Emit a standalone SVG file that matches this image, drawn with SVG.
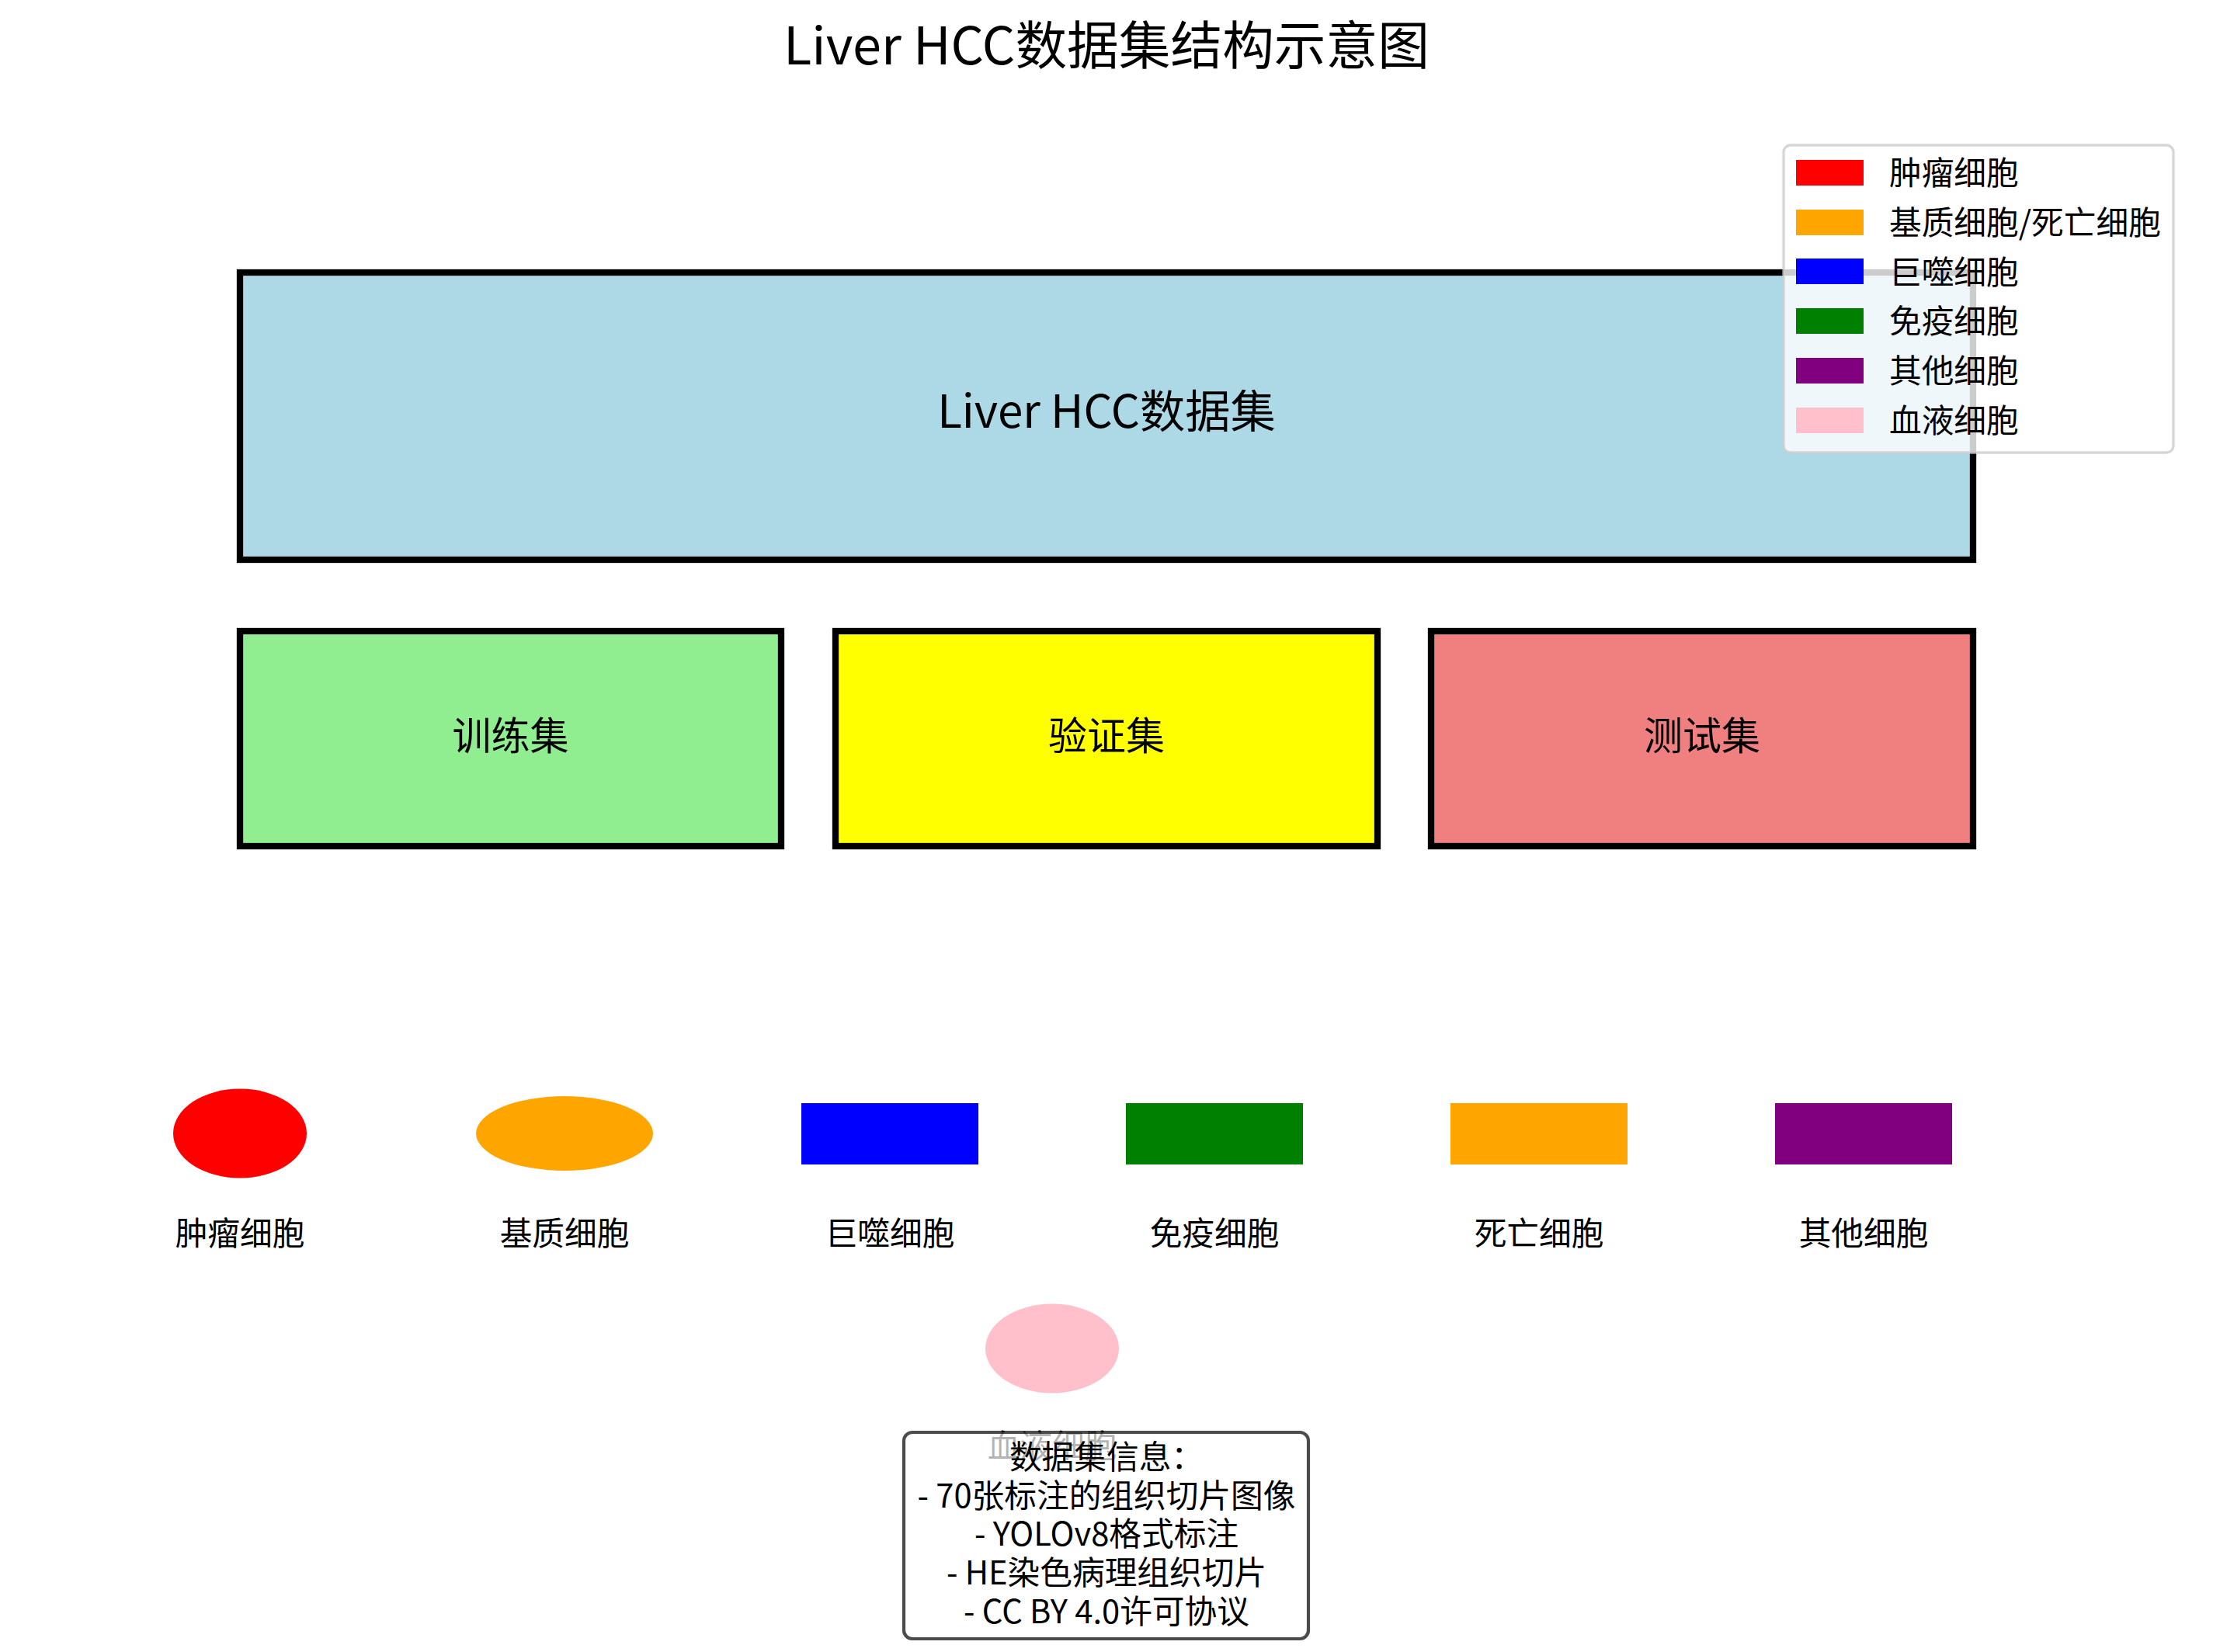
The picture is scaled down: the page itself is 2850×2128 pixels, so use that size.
<svg xmlns="http://www.w3.org/2000/svg" width="2850" height="2128" viewBox="0 0 2850 2128">
<style>
  text { font-family: "Noto Sans CJK SC", "Noto Sans", sans-serif; fill: #000; }
  .title { font-size: 66.7px; text-anchor: middle; }
  .main { font-size: 58.3px; text-anchor: middle; }
  .sub { font-size: 50px; text-anchor: middle; }
  .lbl { font-size: 41.7px; text-anchor: middle; }
  .leg { font-size: 41.7px; text-anchor: start; }
  .info { font-size: 41.7px; text-anchor: middle; }
  .box { stroke: #000; stroke-width: 8.3; }
</style>
<rect width="2850" height="2128" fill="#fff"/>
<g id="title"><text class="title" x="1425" y="83">Liver HCC数据集结构示意图</text></g>
<g id="connectors"></g>
<g id="dataset">
  <rect class="box" x="309" y="351" width="2232" height="370" fill="#ADD8E6"/>
  <text class="main" x="1425" y="551">Liver HCC数据集</text>
</g>
<g id="train">
  <rect class="box" x="309" y="813" width="697" height="277" fill="#90EE90"/>
  <text class="sub" x="657.5" y="966">训练集</text>
</g>
<g id="val">
  <rect class="box" x="1076" y="813" width="698" height="277" fill="#FFFF00"/>
  <text class="sub" x="1425" y="966">验证集</text>
</g>
<g id="test">
  <rect class="box" x="1843" y="813" width="698" height="277" fill="#F08080"/>
  <text class="sub" x="2192" y="966">测试集</text>
</g>
<g id="cell-tumor">
  <ellipse cx="309" cy="1460" rx="86" ry="57.5" fill="#FF0000"/>
  <text class="lbl" x="309" y="1604">肿瘤细胞</text>
</g>
<g id="cell-stroma">
  <ellipse cx="727" cy="1460" rx="114" ry="48" fill="#FFA500"/>
  <text class="lbl" x="727" y="1604">基质细胞</text>
</g>
<g id="cell-macrophage">
  <rect x="1032" y="1421" width="228" height="79" fill="#0000FF"/>
  <text class="lbl" x="1146" y="1604">巨噬细胞</text>
</g>
<g id="cell-immune">
  <rect x="1450" y="1421" width="228" height="79" fill="#008000"/>
  <text class="lbl" x="1564" y="1604">免疫细胞</text>
</g>
<g id="cell-dead">
  <rect x="1868" y="1421" width="228" height="79" fill="#FFA500"/>
  <text class="lbl" x="1982" y="1604">死亡细胞</text>
</g>
<g id="cell-other">
  <rect x="2286" y="1421" width="228" height="79" fill="#800080"/>
  <text class="lbl" x="2400" y="1604">其他细胞</text>
</g>
<g id="cell-blood">
  <ellipse cx="1355" cy="1737" rx="86" ry="57.5" fill="#FFC0CB"/>
  <text class="lbl" x="1355" y="1878">血液细胞</text>
</g>
<g id="info">
  <rect x="1164" y="1845" width="521" height="266" rx="11" ry="11" fill="#fff" fill-opacity="0.7" stroke="#000" stroke-opacity="0.7" stroke-width="4.2"/>
  <text class="info" x="1425" y="1892">数据集信息：</text>
  <text class="info" x="1425" y="1942">- 70张标注的组织切片图像</text>
  <text class="info" x="1425" y="1991">- YOLOv8格式标注</text>
  <text class="info" x="1425" y="2041">- HE染色病理组织切片</text>
  <text class="info" x="1425" y="2091">- CC BY 4.0许可协议</text>
</g>
<g id="legend">
  <rect x="2297" y="187" width="502" height="396" rx="9" ry="9" fill="#fff" fill-opacity="0.8" stroke="#CCCCCC" stroke-opacity="0.8" stroke-width="3.3"/>
  <rect x="2313" y="206" width="87" height="33" fill="#FF0000"/>
  <text class="leg" x="2433" y="238">肿瘤细胞</text>
  <rect x="2313" y="270" width="87" height="33" fill="#FFA500"/>
  <text class="leg" x="2433" y="302">基质细胞/死亡细胞</text>
  <rect x="2313" y="333" width="87" height="33" fill="#0000FF"/>
  <text class="leg" x="2433" y="366">巨噬细胞</text>
  <rect x="2313" y="397" width="87" height="33" fill="#008000"/>
  <text class="leg" x="2433" y="429">免疫细胞</text>
  <rect x="2313" y="461" width="87" height="33" fill="#800080"/>
  <text class="leg" x="2433" y="493">其他细胞</text>
  <rect x="2313" y="525" width="87" height="33" fill="#FFC0CB"/>
  <text class="leg" x="2433" y="557">血液细胞</text>
</g>
</svg>
